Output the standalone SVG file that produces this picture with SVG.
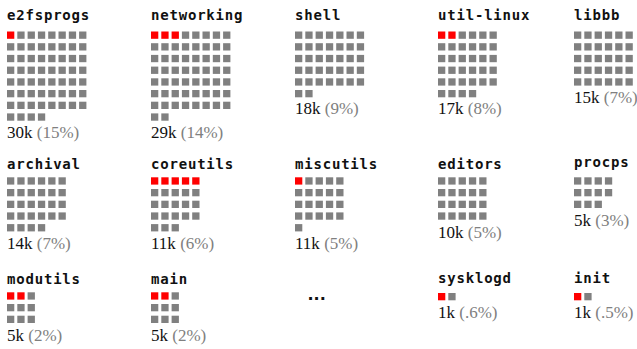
<svg xmlns="http://www.w3.org/2000/svg" xmlns:xlink="http://www.w3.org/1999/xlink" width="637" height="349" viewBox="0 0 637 349">
  <style>
    .name { font-family: "DejaVu Sans Mono", "Liberation Mono", monospace; font-weight: bold; font-size: 14px; letter-spacing: 0.8px; fill: #111; }
    .num { font-family: "Liberation Serif", "DejaVu Serif", serif; font-size: 17px; fill: #111; }
    .pct { fill: #808080; }
    .cells { fill: #808080; }
    .hot { fill: #ff0000; }
    .more { font-family: "DejaVu Sans", sans-serif; font-weight: bold; font-size: 16px; fill: #111; }
  </style>
  <defs>
    <!-- one cell = 500 lines; rows of n cells, 10.3 px pitch -->
    <rect id="c" width="7.3" height="7.3"/>
    <g id="r2"><use href="#c"/><use href="#c" x="10.3"/></g>
    <g id="r3"><use href="#r2"/><use href="#c" x="20.6"/></g>
    <g id="r4"><use href="#r3"/><use href="#c" x="30.9"/></g>
    <g id="r5"><use href="#r4"/><use href="#c" x="41.2"/></g>
    <g id="r6"><use href="#r5"/><use href="#c" x="51.5"/></g>
    <g id="r7"><use href="#r6"/><use href="#c" x="61.8"/></g>
    <g id="r8"><use href="#r7"/><use href="#c" x="72.1"/></g>
  </defs>

  <!-- ===== row 1 ===== -->
  <g id="e2fsprogs" transform="translate(7,0)">
    <text class="name" y="20">e2fsprogs</text>
    <g transform="translate(0,31.5)">
      <use href="#c" class="hot"/>
      <g class="cells">
        <use href="#r7" x="10.3"/>
        <use href="#r8" y="11.7"/><use href="#r8" y="23.4"/><use href="#r8" y="35.1"/>
        <use href="#r8" y="46.8"/><use href="#r8" y="58.5"/><use href="#r8" y="70.2"/>
        <use href="#r4" y="81.9"/>
      </g>
    </g>
    <text class="num" y="137.5">30k <tspan class="pct">(15%)</tspan></text>
  </g>

  <g id="networking" transform="translate(151,0)">
    <text class="name" y="20">networking</text>
    <g transform="translate(0,31.5)">
      <use href="#r3" class="hot"/>
      <g class="cells">
        <use href="#r5" x="30.9"/>
        <use href="#r8" y="11.7"/><use href="#r8" y="23.4"/><use href="#r8" y="35.1"/>
        <use href="#r8" y="46.8"/><use href="#r8" y="58.5"/><use href="#r8" y="70.2"/>
        <use href="#r2" y="81.9"/>
      </g>
    </g>
    <text class="num" y="137.5">29k <tspan class="pct">(14%)</tspan></text>
  </g>

  <g id="shell" transform="translate(295,0)">
    <text class="name" y="20">shell</text>
    <g class="cells" transform="translate(0,31.5)">
      <use href="#r7"/><use href="#r7" y="11.7"/><use href="#r7" y="23.4"/>
      <use href="#r7" y="35.1"/><use href="#r7" y="46.8"/>
      <use href="#r2" y="58.5"/>
    </g>
    <text class="num" y="114">18k <tspan class="pct">(9%)</tspan></text>
  </g>

  <g id="util-linux" transform="translate(438,0)">
    <text class="name" y="20">util-linux</text>
    <g transform="translate(0,31.5)">
      <use href="#r2" class="hot"/>
      <g class="cells">
        <use href="#r4" x="20.6"/>
        <use href="#r6" y="11.7"/><use href="#r6" y="23.4"/>
        <use href="#r6" y="35.1"/><use href="#r6" y="46.8"/>
        <use href="#r4" y="58.5"/>
      </g>
    </g>
    <text class="num" y="114">17k <tspan class="pct">(8%)</tspan></text>
  </g>

  <g id="libbb" transform="translate(574,0)">
    <text class="name" y="20">libbb</text>
    <g class="cells" transform="translate(0,31.5)">
      <use href="#r6"/><use href="#r6" y="11.7"/><use href="#r6" y="23.4"/>
      <use href="#r6" y="35.1"/><use href="#r6" y="46.8"/>
    </g>
    <text class="num" y="102.5">15k <tspan class="pct">(7%)</tspan></text>
  </g>

  <!-- ===== row 2 ===== -->
  <g id="archival" transform="translate(7,0)">
    <text class="name" y="168.5">archival</text>
    <g class="cells" transform="translate(0,177.3)">
      <use href="#r6"/><use href="#r6" y="11.7"/><use href="#r6" y="23.4"/>
      <use href="#r6" y="35.1"/><use href="#r4" y="46.8"/>
    </g>
    <text class="num" y="249">14k <tspan class="pct">(7%)</tspan></text>
  </g>

  <g id="coreutils" transform="translate(151,0)">
    <text class="name" y="168.5">coreutils</text>
    <g transform="translate(0,177.3)">
      <use href="#r5" class="hot"/>
      <g class="cells">
        <use href="#r5" y="11.7"/><use href="#r5" y="23.4"/>
        <use href="#r5" y="35.1"/><use href="#r3" y="46.8"/>
      </g>
    </g>
    <text class="num" y="249">11k <tspan class="pct">(6%)</tspan></text>
  </g>

  <g id="miscutils" transform="translate(295,0)">
    <text class="name" y="168.5">miscutils</text>
    <g transform="translate(0,177.3)">
      <use href="#c" class="hot"/>
      <g class="cells">
        <use href="#r4" x="10.3"/>
        <use href="#r5" y="11.7"/><use href="#r5" y="23.4"/>
        <use href="#r5" y="35.1"/><use href="#c" y="46.8"/>
      </g>
    </g>
    <text class="num" y="249">11k <tspan class="pct">(5%)</tspan></text>
  </g>

  <g id="editors" transform="translate(438,0)">
    <text class="name" y="168.5">editors</text>
    <g class="cells" transform="translate(0,177.3)">
      <use href="#r5"/><use href="#r5" y="11.7"/><use href="#r5" y="23.4"/><use href="#r5" y="35.1"/>
    </g>
    <text class="num" y="238">10k <tspan class="pct">(5%)</tspan></text>
  </g>

  <g id="procps" transform="translate(574,0)">
    <text class="name" y="167">procps</text>
    <g class="cells" transform="translate(0,177.3)">
      <use href="#r4"/><use href="#r4" y="11.7"/><use href="#r3" y="23.4"/>
    </g>
    <text class="num" y="226">5k <tspan class="pct">(3%)</tspan></text>
  </g>

  <!-- ===== row 3 ===== -->
  <g id="modutils" transform="translate(7,0)">
    <text class="name" y="284">modutils</text>
    <g transform="translate(0,292.3)">
      <use href="#r2" class="hot"/>
      <g class="cells">
        <use href="#c" x="20.6"/>
        <use href="#r3" y="11.7"/><use href="#r3" y="23.4"/>
      </g>
    </g>
    <text class="num" y="340.5">5k <tspan class="pct">(2%)</tspan></text>
  </g>

  <g id="main" transform="translate(151,0)">
    <text class="name" y="284">main</text>
    <g transform="translate(0,292.3)">
      <use href="#r2" class="hot"/>
      <g class="cells">
        <use href="#c" x="20.6"/>
        <use href="#r3" y="11.7"/><use href="#r3" y="23.4"/>
      </g>
    </g>
    <text class="num" y="340.5">5k <tspan class="pct">(2%)</tspan></text>
  </g>

  <g id="others">
    <text class="more" x="307.5" y="299.5">...</text>
  </g>

  <g id="sysklogd" transform="translate(438,0)">
    <text class="name" y="283">sysklogd</text>
    <g transform="translate(0,293)">
      <use href="#c" class="hot"/>
      <use href="#c" x="10.3" class="cells"/>
    </g>
    <text class="num" y="317.5">1k <tspan class="pct">(.6%)</tspan></text>
  </g>

  <g id="init" transform="translate(574,0)">
    <text class="name" y="283">init</text>
    <g transform="translate(0,293)">
      <use href="#c" class="hot"/>
      <use href="#c" x="10.3" class="cells"/>
    </g>
    <text class="num" y="317.5">1k <tspan class="pct">(.5%)</tspan></text>
  </g>

  <!-- no connectors in this chart -->
  <g id="connectors"/>
</svg>
